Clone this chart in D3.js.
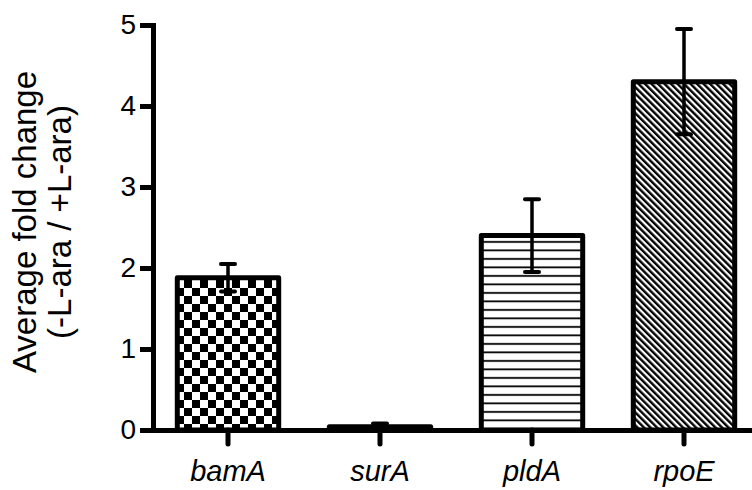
<!DOCTYPE html>
<html lang="en">
<head>
    <meta charset="UTF-8">
    <title>Average fold change</title>
    <script src="https://d3js.org/d3.v7.min.js"></script>
    <style>
        body {
            margin: 0;
            padding: 0;
            background-color: #fff;
            font-family: Arial, "Liberation Sans", sans-serif;
        }
        svg text {
            fill: #000;
        }
    </style>
</head>
<body>
    <div id="chart"></div>
    <script>
        // values
        const genes = ["bamA", "surA", "pldA", "rpoE"];
        const foldChange = [1.88, 0.04, 2.4, 4.3];
        const errors = [0.17, 0.04, 0.45, 0.65];
        const patterns = ["checker", "checker", "hlines", "diag"];
        const yTicks = [0, 1, 2, 3, 4, 5];

        const width = 752, height = 490;

        const svg = d3.select("#chart")
            .append("svg")
            .attr("width", width)
            .attr("height", height);

        const defs = svg.append("defs");

        // checkerboard
        const chk = defs.append("pattern")
            .attr("id", "checker")
            .attr("patternUnits", "userSpaceOnUse")
            .attr("width", 16).attr("height", 16);
        chk.append("rect").attr("width", 16).attr("height", 16).attr("fill", "#fff");
        chk.append("rect").attr("width", 8).attr("height", 8).attr("fill", "#000");
        chk.append("rect").attr("x", 8).attr("y", 8).attr("width", 8).attr("height", 8).attr("fill", "#000");

        // horizontal lines
        const hl = defs.append("pattern")
            .attr("id", "hlines")
            .attr("patternUnits", "userSpaceOnUse")
            .attr("width", 8).attr("height", 8.5);
        hl.append("rect").attr("width", 8).attr("height", 8.5).attr("fill", "#fff");
        hl.append("rect").attr("y", 3).attr("width", 8).attr("height", 1.8).attr("fill", "#000");

        // diagonal hatch (top-left to bottom-right)
        const dg = defs.append("pattern")
            .attr("id", "diag")
            .attr("patternUnits", "userSpaceOnUse")
            .attr("width", 4.6).attr("height", 6)
            .attr("patternTransform", "rotate(-45)");
        dg.append("rect").attr("width", 4.6).attr("height", 6).attr("fill", "#fff");
        dg.append("rect").attr("width", 2.4).attr("height", 6).attr("fill", "#000");

        const x = d3.scaleBand()
            .domain(genes)
            .range([152, 760])
            .paddingInner(0.3)
            .paddingOuter(0.15);

        const y = d3.scaleLinear()
            .domain([0, 5])
            .range([430, 25]);

        // bars
        const bw = 5;
        svg.selectAll(".bar")
            .data(genes)
            .enter()
            .append("rect")
            .attr("class", "bar")
            .attr("x", d => x(d) + bw / 2)
            .attr("width", x.bandwidth() - bw)
            .attr("y", (d, i) => y(foldChange[i]))
            .attr("height", (d, i) => y(0) - y(foldChange[i]))
            .attr("fill", (d, i) => `url(#${patterns[i]})`)
            .attr("stroke", "#000")
            .attr("stroke-width", bw)
            .attr("stroke-linejoin", "round");

        // error bars
        const eb = svg.append("g");
        genes.forEach((g, i) => {
            const cx = x(g) + x.bandwidth() / 2;
            const hi = y(foldChange[i] + errors[i]);
            const lo = y(Math.max(0, foldChange[i] - errors[i]));
            eb.append("line")
                .attr("x1", cx).attr("x2", cx)
                .attr("y1", hi).attr("y2", lo)
                .attr("stroke", "#000").attr("stroke-width", 3.5);
            [hi, lo].forEach(v => {
                eb.append("line")
                    .attr("x1", cx - 7).attr("x2", cx + 7)
                    .attr("y1", v).attr("y2", v)
                    .attr("stroke", "#000").attr("stroke-width", 4)
                    .attr("stroke-linecap", "round");
            });
        });

        // y axis
        const yAxis = svg.append("g")
            .attr("transform", "translate(153,0)")
            .call(d3.axisLeft(y).tickValues(yTicks).tickFormat(d3.format("d"))
                .tickSize(13).tickSizeOuter(0).tickPadding(4));
        yAxis.select(".domain").attr("stroke-width", 5).attr("stroke-linecap", "square");
        yAxis.selectAll(".tick line").attr("stroke-width", 5);
        yAxis.selectAll(".tick text")
            .attr("font-size", 28)
            .attr("font-family", "Arial, 'Liberation Sans', sans-serif");

        // x axis
        const xAxis = svg.append("g")
            .attr("transform", "translate(0,430)")
            .call(d3.axisBottom(x).tickSize(14).tickSizeOuter(0).tickPadding(16));
        xAxis.select(".domain").attr("stroke-width", 5);
        xAxis.selectAll(".tick line").attr("stroke-width", 5).attr("stroke-linecap", "round");
        xAxis.selectAll(".tick text")
            .attr("font-size", 29)
            .attr("font-style", "italic")
            .attr("font-family", "Arial, 'Liberation Sans', sans-serif");

        // y axis title
        const title = svg.append("text")
            .attr("transform", "translate(0,222) rotate(-90)")
            .attr("text-anchor", "middle")
            .attr("font-size", 33)
            .attr("font-family", "Arial, 'Liberation Sans', sans-serif");
        title.append("tspan").attr("x", 0).attr("y", 36).text("Average fold change");
        title.append("tspan").attr("x", 0).attr("y", 71).text("(-L-ara / +L-ara)");
    </script>
</body>
</html>
